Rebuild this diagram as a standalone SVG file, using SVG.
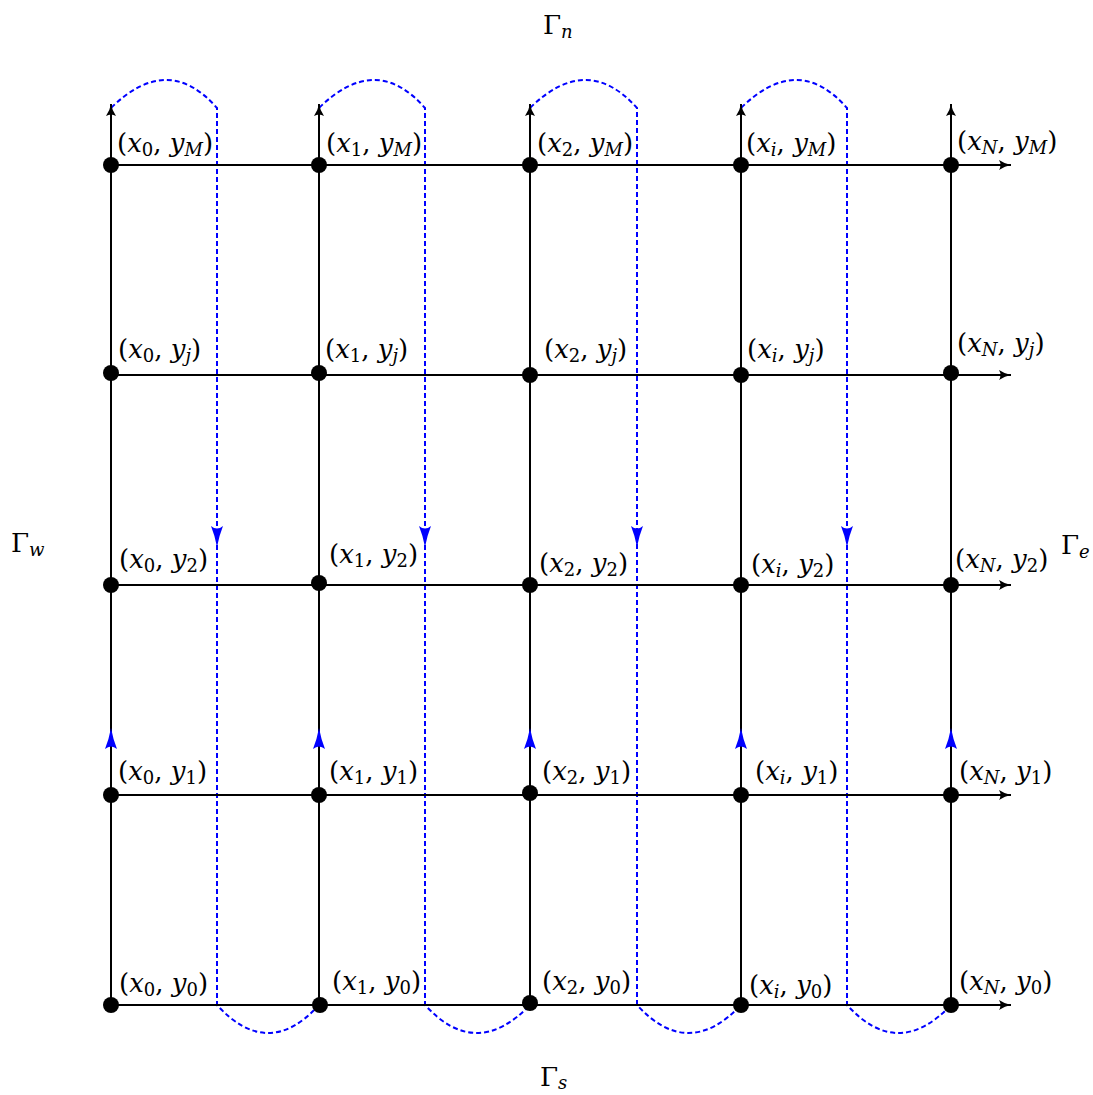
<svg xmlns="http://www.w3.org/2000/svg" width="1093" height="1095" viewBox="0 0 1093 1095">
<style>
.g{stroke:#000;stroke-width:2;fill:none}
.b{stroke:#0000ff;stroke-width:2;fill:none;stroke-dasharray:5 3}
.d{fill:#000}
text{font-family:"DejaVu Serif","Liberation Serif",serif;font-size:26px;fill:#000}
.v{font-style:italic}
.s{font-size:18px}
.si{font-size:18px;font-style:italic}
</style>
<defs>
<marker id="ak" markerWidth="14" markerHeight="10" refX="12" refY="5" orient="auto" markerUnits="userSpaceOnUse">
<path d="M0,0 Q6,4 12,5 Q6,6 0,10 Q3,5 0,0Z" fill="#000"/>
</marker>
<path id="bu" d="M0,-14 Q-2,-3 -6,7 Q0,2 6,7 Q2,-3 0,-14Z" fill="#0000ff"/>
<path id="bd" d="M0,14 Q-2,3 -6,-7 Q0,-2 6,-7 Q2,3 0,14Z" fill="#0000ff"/>
</defs>
<g id="connectors">
<g id="blue">
<path class="b" d="M111,108 Q168,52 217,108 L217,1005 Q268,1061 319,1005"/>
<path class="b" d="M319,108 Q376,52 425,108 L425,1005 Q476,1061 530,1005"/>
<path class="b" d="M530,108 Q587,52 637,108 L637,1005 Q688,1061 741,1005"/>
<path class="b" d="M741,108 Q798,52 847,108 L847,1005 Q898,1061 951,1005"/>
<path class="b" d="M111,795 L111,815"/>
</g>
<g id="grid">
<line class="g" x1="111" y1="1005" x2="111" y2="104" marker-end="url(#ak)"/>
<line class="g" x1="319" y1="1005" x2="319" y2="104" marker-end="url(#ak)"/>
<line class="g" x1="530" y1="1005" x2="530" y2="104" marker-end="url(#ak)"/>
<line class="g" x1="741" y1="1005" x2="741" y2="104" marker-end="url(#ak)"/>
<line class="g" x1="951" y1="1005" x2="951" y2="104" marker-end="url(#ak)"/>
<line class="g" x1="111" y1="165" x2="1011" y2="165" marker-end="url(#ak)"/>
<line class="g" x1="111" y1="375" x2="1011" y2="375" marker-end="url(#ak)"/>
<line class="g" x1="111" y1="585" x2="1011" y2="585" marker-end="url(#ak)"/>
<line class="g" x1="111" y1="795" x2="1011" y2="795" marker-end="url(#ak)"/>
<line class="g" x1="111" y1="1005" x2="1011" y2="1005" marker-end="url(#ak)"/>
</g>
<g id="blue-arrows">
<use href="#bd" x="217" y="533"/>
<use href="#bd" x="425" y="533"/>
<use href="#bd" x="637" y="533"/>
<use href="#bd" x="847" y="533"/>
<use href="#bu" x="111" y="742"/>
<use href="#bu" x="319" y="742"/>
<use href="#bu" x="530" y="742"/>
<use href="#bu" x="741" y="742"/>
<use href="#bu" x="951" y="742"/>
</g>
</g>
<g id="nodes">
<g id="n-0-M"><circle class="d" cx="111" cy="165" r="8"/><text x="117" y="152">(<tspan class="v">x</tspan><tspan class="s" dy="4">0</tspan><tspan dy="-4">, </tspan><tspan class="v">y</tspan><tspan class="si" dy="4">M</tspan><tspan dy="-4">)</tspan></text></g>
<g id="n-1-M"><circle class="d" cx="319" cy="165" r="8"/><text x="326" y="152">(<tspan class="v">x</tspan><tspan class="s" dy="4">1</tspan><tspan dy="-4">, </tspan><tspan class="v">y</tspan><tspan class="si" dy="4">M</tspan><tspan dy="-4">)</tspan></text></g>
<g id="n-2-M"><circle class="d" cx="530" cy="165" r="8"/><text x="537" y="152">(<tspan class="v">x</tspan><tspan class="s" dy="4">2</tspan><tspan dy="-4">, </tspan><tspan class="v">y</tspan><tspan class="si" dy="4">M</tspan><tspan dy="-4">)</tspan></text></g>
<g id="n-i-M"><circle class="d" cx="741" cy="165" r="8"/><text x="746" y="152">(<tspan class="v">x</tspan><tspan class="si" dy="4">i</tspan><tspan dy="-4">, </tspan><tspan class="v">y</tspan><tspan class="si" dy="4">M</tspan><tspan dy="-4">)</tspan></text></g>
<g id="n-N-M"><circle class="d" cx="951" cy="165" r="8"/><text x="957" y="150">(<tspan class="v">x</tspan><tspan class="si" dy="4">N</tspan><tspan dy="-4">, </tspan><tspan class="v">y</tspan><tspan class="si" dy="4">M</tspan><tspan dy="-4">)</tspan></text></g>

<g id="n-0-j"><circle class="d" cx="111" cy="373" r="8"/><text x="118" y="358">(<tspan class="v">x</tspan><tspan class="s" dy="4">0</tspan><tspan dy="-4">, </tspan><tspan class="v">y</tspan><tspan class="si" dy="4">j</tspan><tspan dy="-4">)</tspan></text></g>
<g id="n-1-j"><circle class="d" cx="319" cy="373" r="8"/><text x="325" y="358">(<tspan class="v">x</tspan><tspan class="s" dy="4">1</tspan><tspan dy="-4">, </tspan><tspan class="v">y</tspan><tspan class="si" dy="4">j</tspan><tspan dy="-4">)</tspan></text></g>
<g id="n-2-j"><circle class="d" cx="530" cy="375" r="8"/><text x="544" y="358">(<tspan class="v">x</tspan><tspan class="s" dy="4">2</tspan><tspan dy="-4">, </tspan><tspan class="v">y</tspan><tspan class="si" dy="4">j</tspan><tspan dy="-4">)</tspan></text></g>
<g id="n-i-j"><circle class="d" cx="741" cy="375" r="8"/><text x="747" y="358">(<tspan class="v">x</tspan><tspan class="si" dy="4">i</tspan><tspan dy="-4">, </tspan><tspan class="v">y</tspan><tspan class="si" dy="4">j</tspan><tspan dy="-4">)</tspan></text></g>
<g id="n-N-j"><circle class="d" cx="951" cy="373" r="8"/><text x="957" y="352">(<tspan class="v">x</tspan><tspan class="si" dy="4">N</tspan><tspan dy="-4">, </tspan><tspan class="v">y</tspan><tspan class="si" dy="4">j</tspan><tspan dy="-4">)</tspan></text></g>

<g id="n-0-2"><circle class="d" cx="111" cy="585" r="8"/><text x="119" y="568">(<tspan class="v">x</tspan><tspan class="s" dy="4">0</tspan><tspan dy="-4">, </tspan><tspan class="v">y</tspan><tspan class="s" dy="4">2</tspan><tspan dy="-4">)</tspan></text></g>
<g id="n-1-2"><circle class="d" cx="319" cy="583" r="8"/><text x="329" y="563">(<tspan class="v">x</tspan><tspan class="s" dy="4">1</tspan><tspan dy="-4">, </tspan><tspan class="v">y</tspan><tspan class="s" dy="4">2</tspan><tspan dy="-4">)</tspan></text></g>
<g id="n-2-2"><circle class="d" cx="530" cy="585" r="8"/><text x="539" y="572">(<tspan class="v">x</tspan><tspan class="s" dy="4">2</tspan><tspan dy="-4">, </tspan><tspan class="v">y</tspan><tspan class="s" dy="4">2</tspan><tspan dy="-4">)</tspan></text></g>
<g id="n-i-2"><circle class="d" cx="741" cy="585" r="8"/><text x="751" y="573">(<tspan class="v">x</tspan><tspan class="si" dy="4">i</tspan><tspan dy="-4">, </tspan><tspan class="v">y</tspan><tspan class="s" dy="4">2</tspan><tspan dy="-4">)</tspan></text></g>
<g id="n-N-2"><circle class="d" cx="951" cy="585" r="8"/><text x="955" y="568">(<tspan class="v">x</tspan><tspan class="si" dy="4">N</tspan><tspan dy="-4">, </tspan><tspan class="v">y</tspan><tspan class="s" dy="4">2</tspan><tspan dy="-4">)</tspan></text></g>

<g id="n-0-1"><circle class="d" cx="111" cy="795" r="8"/><text x="118" y="780">(<tspan class="v">x</tspan><tspan class="s" dy="4">0</tspan><tspan dy="-4">, </tspan><tspan class="v">y</tspan><tspan class="s" dy="4">1</tspan><tspan dy="-4">)</tspan></text></g>
<g id="n-1-1"><circle class="d" cx="319" cy="795" r="8"/><text x="329" y="780">(<tspan class="v">x</tspan><tspan class="s" dy="4">1</tspan><tspan dy="-4">, </tspan><tspan class="v">y</tspan><tspan class="s" dy="4">1</tspan><tspan dy="-4">)</tspan></text></g>
<g id="n-2-1"><circle class="d" cx="530" cy="793" r="8"/><text x="542" y="780">(<tspan class="v">x</tspan><tspan class="s" dy="4">2</tspan><tspan dy="-4">, </tspan><tspan class="v">y</tspan><tspan class="s" dy="4">1</tspan><tspan dy="-4">)</tspan></text></g>
<g id="n-i-1"><circle class="d" cx="741" cy="795" r="8"/><text x="755" y="780">(<tspan class="v">x</tspan><tspan class="si" dy="4">i</tspan><tspan dy="-4">, </tspan><tspan class="v">y</tspan><tspan class="s" dy="4">1</tspan><tspan dy="-4">)</tspan></text></g>
<g id="n-N-1"><circle class="d" cx="951" cy="795" r="8"/><text x="959" y="780">(<tspan class="v">x</tspan><tspan class="si" dy="4">N</tspan><tspan dy="-4">, </tspan><tspan class="v">y</tspan><tspan class="s" dy="4">1</tspan><tspan dy="-4">)</tspan></text></g>

<g id="n-0-0"><circle class="d" cx="111" cy="1005" r="8"/><text x="119" y="992">(<tspan class="v">x</tspan><tspan class="s" dy="4">0</tspan><tspan dy="-4">, </tspan><tspan class="v">y</tspan><tspan class="s" dy="4">0</tspan><tspan dy="-4">)</tspan></text></g>
<g id="n-1-0"><circle class="d" cx="320" cy="1005" r="8"/><text x="332" y="990">(<tspan class="v">x</tspan><tspan class="s" dy="4">1</tspan><tspan dy="-4">, </tspan><tspan class="v">y</tspan><tspan class="s" dy="4">0</tspan><tspan dy="-4">)</tspan></text></g>
<g id="n-2-0"><circle class="d" cx="530" cy="1003" r="8"/><text x="542" y="990">(<tspan class="v">x</tspan><tspan class="s" dy="4">2</tspan><tspan dy="-4">, </tspan><tspan class="v">y</tspan><tspan class="s" dy="4">0</tspan><tspan dy="-4">)</tspan></text></g>
<g id="n-i-0"><circle class="d" cx="741" cy="1005" r="8"/><text x="749" y="994">(<tspan class="v">x</tspan><tspan class="si" dy="4">i</tspan><tspan dy="-4">, </tspan><tspan class="v">y</tspan><tspan class="s" dy="4">0</tspan><tspan dy="-4">)</tspan></text></g>
<g id="n-N-0"><circle class="d" cx="951" cy="1005" r="8"/><text x="959" y="990">(<tspan class="v">x</tspan><tspan class="si" dy="4">N</tspan><tspan dy="-4">, </tspan><tspan class="v">y</tspan><tspan class="s" dy="4">0</tspan><tspan dy="-4">)</tspan></text></g>
</g>
<g id="boundaries">
<text x="543" y="34">Γ<tspan class="si" dy="4">n</tspan></text>
<text x="540" y="1086">Γ<tspan class="si" dy="3">s</tspan></text>
<text x="11" y="552">Γ<tspan class="si" dy="4">w</tspan></text>
<text x="1061" y="554">Γ<tspan class="si" dy="4">e</tspan></text>
</g>
</svg>
